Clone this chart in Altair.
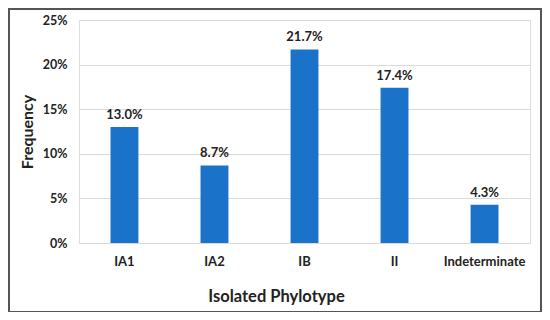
import altair as alt
import pandas as pd

categories = ["IA1", "IA2", "IB", "II", "Indeterminate"]
values = [13.0, 8.7, 21.7, 17.4, 4.3]
y_ticks = [0, 5, 10, 15, 20, 25]

df = pd.DataFrame({"cat": categories, "val": values})

FONT = "Lato"
BAR = "#1b72c9"

base = alt.Chart(df).encode(
    x=alt.X("cat:N", sort=categories,
            scale=alt.Scale(paddingInner=0.69, paddingOuter=0.35),
            axis=alt.Axis(title="Isolated  Phylotype", labelAngle=0, ticks=False, domain=False,
                          labelFont=FONT, labelFontWeight="bold", labelFontSize=13,
                          labelColor="#222", labelPadding=12,
                          titleFont=FONT, titleFontWeight="bold", titleFontSize=16.5,
                          titleColor="#222", titlePadding=20, titleX=197)),
    y=alt.Y("val:Q", scale=alt.Scale(domain=[0, 25]),
            axis=alt.Axis(title="Frequency", values=y_ticks, labelExpr="datum.value + '%'",
                          ticks=False, domain=False, grid=True, gridColor="#d9d9d9",
                          labelFont=FONT, labelFontWeight="bold", labelFontSize=12.5,
                          labelColor="#222", labelPadding=12,
                          titleFont=FONT, titleFontWeight="bold", titleFontSize=16,
                          titleColor="#222", titlePadding=7)),
)

bars = base.mark_bar(color=BAR)
labels = base.transform_calculate(
    lbl="format(datum.val, '.1f') + '%'"
).mark_text(dy=-12, font=FONT, fontWeight="bold", fontSize=13, color="#222").encode(
    text="lbl:N")

border = alt.Chart(alt.Data(values=[{"a": 1}])).mark_rect(
    fill=None, stroke="#555555", strokeWidth=2
).encode(x=alt.value(-70), x2=alt.value(462), y=alt.value(-11), y2=alt.value(292))

chart = alt.layer(bars, labels, border).properties(
    width=451, height=223,
    autosize=alt.AutoSizeParams(type="none"),
    padding={"left": 71, "top": 12, "right": 12, "bottom": 69},
).configure_view(stroke=None).configure(background="white")

chart.save("out.html", embed_options={"renderer": "svg", "actions": False})
